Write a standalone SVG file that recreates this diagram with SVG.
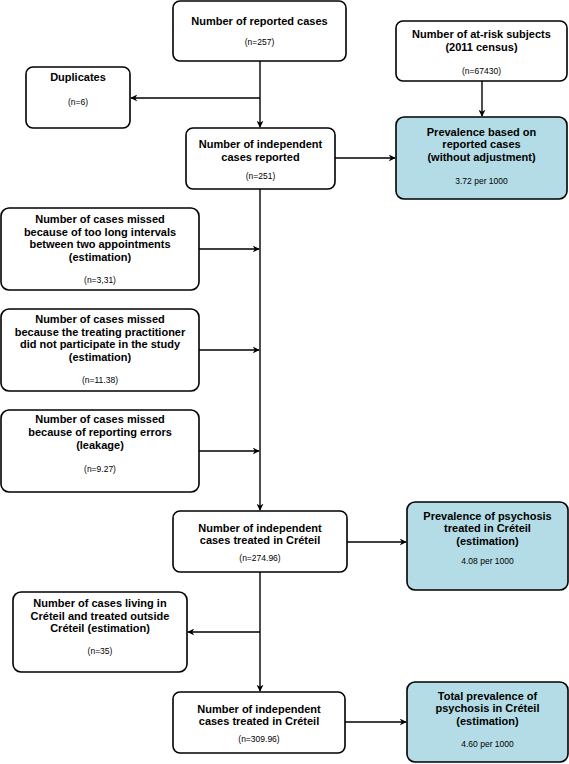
<svg xmlns="http://www.w3.org/2000/svg" width="569" height="764" viewBox="0 0 569 764">
<style>
.box{fill:#fff;stroke:#000;stroke-width:1.6}
.blue{fill:#b3dce6;stroke:#000;stroke-width:1.6}
.t{font-family:"Liberation Sans",Arial,sans-serif;font-size:11px;font-weight:bold;text-anchor:middle;fill:#000}
.n{font-family:"Liberation Sans",Arial,sans-serif;font-size:8.5px;text-anchor:middle;fill:#000}
.c{fill:none;stroke:#000;stroke-width:1.4}
</style>
<defs>
<marker id="ah" viewBox="0 0 10 10" refX="9" refY="5" markerWidth="7" markerHeight="7" markerUnits="userSpaceOnUse" orient="auto">
<path d="M0,0 L10,5 L0,10 L3,5 z" fill="#000"/>
</marker>
</defs>
<g id="connectors">
<path class="c" d="M260,61 V127" marker-end="url(#ah)"/>
<path class="c" d="M260,98 H131" marker-end="url(#ah)"/>
<path class="c" d="M482,81 V116" marker-end="url(#ah)"/>
<path class="c" d="M335,158 H395" marker-end="url(#ah)"/>
<path class="c" d="M260,189 V510" marker-end="url(#ah)"/>
<path class="c" d="M199,249 H259" marker-end="url(#ah)"/>
<path class="c" d="M199,350 H259" marker-end="url(#ah)"/>
<path class="c" d="M199,451 H259" marker-end="url(#ah)"/>
<path class="c" d="M347,542 H406" marker-end="url(#ah)"/>
<path class="c" d="M260,572 V691" marker-end="url(#ah)"/>
<path class="c" d="M260,632 H188" marker-end="url(#ah)"/>
<path class="c" d="M345,722 H406" marker-end="url(#ah)"/>
</g>
<g id="reported">
<rect class="box" x="173" y="1" width="173" height="60" rx="7"/>
<text class="t" x="259.5" y="25">Number of reported cases</text>
<text class="n" x="259.5" y="45">(n=257)</text>
</g>
<g id="atrisk">
<rect class="box" x="396" y="21" width="171" height="60" rx="7"/>
<text class="t" x="481.5" y="38">Number of at-risk subjects</text>
<text class="t" x="481.5" y="51">(2011 census)</text>
<text class="n" x="481.5" y="74">(n=67430)</text>
</g>
<g id="duplicates">
<rect class="box" x="26" y="67" width="104" height="61" rx="7"/>
<text class="t" x="78" y="81">Duplicates</text>
<text class="n" x="78" y="105">(n=6)</text>
</g>
<g id="independent">
<rect class="box" x="186" y="128" width="149" height="61" rx="7"/>
<text class="t" x="260.5" y="148">Number of independent</text>
<text class="t" x="260.5" y="161">cases reported</text>
<text class="n" x="260.5" y="179">(n=251)</text>
</g>
<g id="prev1">
<rect class="blue" x="396" y="117" width="171" height="82" rx="8"/>
<text class="t" x="481.5" y="136">Prevalence based on</text>
<text class="t" x="481.5" y="148">reported cases</text>
<text class="t" x="481.5" y="161">(without adjustment)</text>
<text class="n" x="481.5" y="184">3.72 per 1000</text>
</g>
<g id="missed1">
<rect class="box" x="1" y="208" width="198" height="82" rx="8"/>
<text class="t" x="100" y="223">Number of cases missed</text>
<text class="t" x="100" y="236">because of too long intervals</text>
<text class="t" x="100" y="248">between two appointments</text>
<text class="t" x="100" y="261">(estimation)</text>
<text class="n" x="100" y="283">(n=3,31)</text>
</g>
<g id="missed2">
<rect class="box" x="1" y="309" width="198" height="82" rx="8"/>
<text class="t" x="100" y="323">Number of cases missed</text>
<text class="t" x="100" y="336">because the treating practitioner</text>
<text class="t" x="100" y="348">did not participate in the study</text>
<text class="t" x="100" y="361">(estimation)</text>
<text class="n" x="100" y="383">(n=11.38)</text>
</g>
<g id="missed3">
<rect class="box" x="1" y="410" width="198" height="82" rx="8"/>
<text class="t" x="100" y="423">Number of cases missed</text>
<text class="t" x="100" y="436">because of reporting errors</text>
<text class="t" x="100" y="449">(leakage)</text>
<text class="n" x="100" y="472">(n=9.27)</text>
</g>
<g id="treated1">
<rect class="box" x="173" y="511" width="174" height="61" rx="7"/>
<text class="t" x="260" y="532">Number of independent</text>
<text class="t" x="260" y="544">cases treated in Créteil</text>
<text class="n" x="260" y="561">(n=274.96)</text>
</g>
<g id="prev2">
<rect class="blue" x="407" y="502" width="161" height="88" rx="8"/>
<text class="t" x="487.5" y="520">Prevalence of psychosis</text>
<text class="t" x="487.5" y="532">treated in Créteil</text>
<text class="t" x="487.5" y="545">(estimation)</text>
<text class="n" x="487.5" y="564">4.08 per 1000</text>
</g>
<g id="outside">
<rect class="box" x="13" y="592" width="174" height="80" rx="8"/>
<text class="t" x="100" y="607">Number of cases living in</text>
<text class="t" x="100" y="620">Créteil and treated outside</text>
<text class="t" x="100" y="632">Créteil (estimation)</text>
<text class="n" x="100" y="654">(n=35)</text>
</g>
<g id="treated2">
<rect class="box" x="173" y="692" width="172" height="61" rx="7"/>
<text class="t" x="259" y="713">Number of independent</text>
<text class="t" x="259" y="725">cases treated in Créteil</text>
<text class="n" x="259" y="742">(n=309.96)</text>
</g>
<g id="prev3">
<rect class="blue" x="407" y="682" width="161" height="80" rx="8"/>
<text class="t" x="487.5" y="700">Total prevalence of</text>
<text class="t" x="487.5" y="712">psychosis in Créteil</text>
<text class="t" x="487.5" y="725">(estimation)</text>
<text class="n" x="487.5" y="747">4.60 per 1000</text>
</g>
</svg>
